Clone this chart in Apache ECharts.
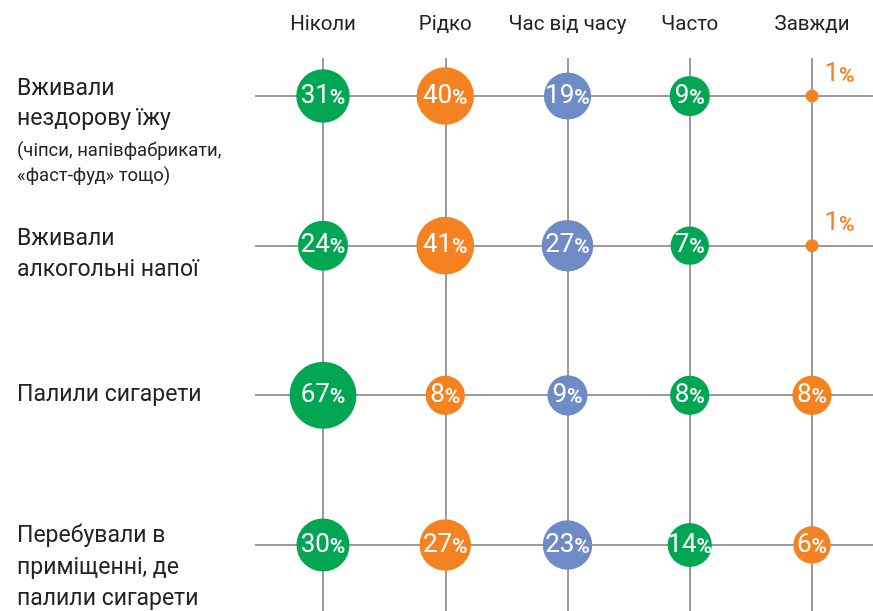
<!DOCTYPE html>
<html>
<head>
<meta charset="utf-8">
<script src="https://cdn.jsdelivr.net/npm/echarts@6/dist/echarts.min.js"></script>
<style>
html,body{margin:0;padding:0;background:#fff;}
#chart{width:873px;height:611px;}
</style>
</head>
<body>
<div id="chart"></div>
<script>
// ---- data ----
const columns = ['Ніколи', 'Рідко', 'Час від часу', 'Часто', 'Завжди'];
const rows = ['Вживали\nнездорову їжу', 'Вживали\nалкогольні напої', 'Палили сигарети', 'Перебували в\nприміщенні, де\nпалили сигарети'];
const rowNotes = ['(чіпси, напівфабрикати,\n«фаст-фуд» тощо)', '', '', ''];
const never = [31, 24, 67, 30];
const rarely = [40, 41, 8, 27];
const sometimes = [19, 27, 9, 23];
const often = [9, 7, 8, 14];
const always = [1, 1, 8, 6];

// ---- styling ----
const GREEN = '#00a651', ORANGE = '#f58220', BLUE = '#6e8bc6', GRID = '#9c9c9f';
const columnColors = [GREEN, ORANGE, BLUE, GREEN, ORANGE];
const seriesValues = [never, rarely, sometimes, often, always];
const FONT = 'Roboto';
const labelSpacer = [67, 18, 0, 47];

function sizeOf(v) {
  return v < 2 ? 13 : 24.7 + 5.17 * Math.sqrt(v);
}

const series = seriesValues.map((vals, ci) => ({
  type: 'scatter',
  xAxisIndex: 0,
  yAxisIndex: 0,
  z: 5,
  symbol: 'circle',
  symbolSize: d => sizeOf(d[2]),
  itemStyle: { color: columnColors[ci], opacity: 1 },
  label: {
    show: true,
    position: 'inside',
    color: '#fff',
    formatter: p => '{n|' + p.value[2] + '}{p|%}',
    rich: {
      n: { fontFamily: FONT, fontSize: 26, lineHeight: 30 },
      p: { fontFamily: FONT, fontSize: 21, fontWeight: 'bold', lineHeight: 21, padding: [5, 0, 0, 0] }
    }
  },
  emphasis: { disabled: true },
  data: vals.map((v, ri) => {
    const item = { value: [ci, ri, v] };
    if (v < 2) {
      item.label = { position: 'right', distance: 6, offset: [0, -22], color: columnColors[ci] };
    }
    return item;
  })
}));

function rowLabel(value, idx) {
  const parts = [];
  if (labelSpacer[idx]) parts.push('{sp' + idx + '| }');
  const big = idx === 0 ? 'b0' : 'b';
  value.split('\n').forEach(l => parts.push('{' + big + '|' + l + '}'));
  if (rowNotes[idx]) rowNotes[idx].split('\n').forEach((l, k) => parts.push('{s' + k + '|' + l + '}'));
  return parts.join('\n');
}
const rowRich = {
  b: { fontFamily: FONT, fontSize: 23, lineHeight: 31.5, color: '#222' },
  b0: { fontFamily: FONT, fontSize: 23, lineHeight: 30, color: '#222' },
  s0: { fontFamily: FONT, fontSize: 18.5, lineHeight: 34, color: '#222' },
  s1: { fontFamily: FONT, fontSize: 18.5, lineHeight: 16, color: '#222' }
};
labelSpacer.forEach((h, i) => { rowRich['sp' + i] = { fontSize: 1, lineHeight: h }; });

const chart = echarts.init(document.getElementById('chart'), null, { renderer: 'canvas' });
chart.setOption({
  animation: false,
  backgroundColor: '#fff',
  grid: [
    { left: 323, right: 61, top: 96, bottom: 66 },
    { left: 323, right: 61, top: 58, bottom: 0 },
    { left: 255, right: 0, top: 96, bottom: 66 }
  ],
  xAxis: [
    { gridIndex: 0, type: 'category', data: columns, boundaryGap: false, show: false },
    {
      gridIndex: 1, type: 'category', data: columns, boundaryGap: false, position: 'top',
      axisLine: { show: false }, axisTick: { show: false },
      axisLabel: { interval: 0, margin: 23, fontFamily: FONT, fontSize: 20.5, lineHeight: 20, color: '#222' },
      splitLine: { show: true, interval: 0, lineStyle: { color: GRID, width: 2 } }
    },
    { gridIndex: 2, type: 'value', min: 0, max: 1, show: false }
  ],
  yAxis: [
    { gridIndex: 0, type: 'category', data: rows, inverse: true, boundaryGap: false, show: false },
    { gridIndex: 1, type: 'value', min: 0, max: 1, show: false },
    {
      gridIndex: 2, type: 'category', data: rows, inverse: true, boundaryGap: false,
      axisLine: { show: false }, axisTick: { show: false },
      splitLine: { show: true, interval: 0, lineStyle: { color: GRID, width: 2 } },
      axisLabel: {
        interval: 0, margin: 238, align: 'left', verticalAlign: 'middle', color: '#222',
        formatter: rowLabel,
        rich: rowRich
      }
    }
  ],
  series: series
});
</script>
</body>
</html>
